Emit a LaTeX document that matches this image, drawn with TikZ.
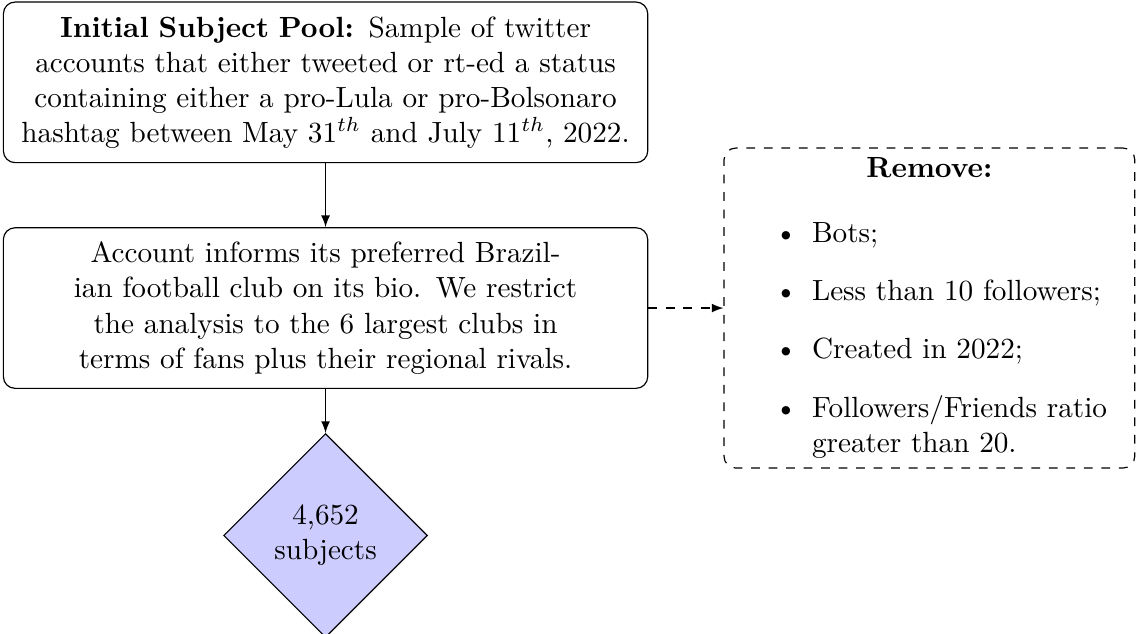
\documentclass[tikz,border=0pt]{standalone}
\usetikzlibrary{shapes.geometric,arrows}
\begin{document}
\begin{tikzpicture}[
  block/.style={rectangle, draw, rounded corners, align=center, text width=214pt, minimum height=55pt},
  removebox/.style={rectangle, draw, dashed, rounded corners, text width=134pt},
  decision/.style={diamond, draw, fill=blue!20, text width=4.5em, align=center, inner sep=1pt},
  arrowline/.style={draw, -latex},
]
\useasboundingbox (0,0) rectangle (389.4pt,-217.1pt);
\node[block] (pool) at (111.5pt,-28.2pt) {\textbf{Initial Subject Pool:} Sample of twitter\\ accounts that either tweeted or rt-ed a status\\ containing either a pro-Lula or pro-Bolsonaro\\ hashtag between May 31$^{th}$ and July 11$^{th}$, 2022.};
\node[block] (club) at (111.5pt,-105.5pt) {Account informs its preferred Brazil-\\ ian football club on its bio. We restrict\\ the analysis to the 6 largest clubs in\\ terms of fans plus their regional rivals.};
\node[decision, anchor=north] (subj) at (111.5pt,-148.3pt) {4,652\\ subjects};
\node[removebox] (remove) at (318.3pt,-105.5pt) {{\centering\textbf{Remove:}\par}
\begin{list}{\textbullet}{\setlength\leftmargin{26.8pt}\setlength\rightmargin{-2.5pt}}
\item Bots;
\item Less than 10 followers;
\item Created in 2022;
\item Followers/Friends ratio greater than 20.
\end{list}};
\draw[arrowline] (pool) -- (club);
\draw[arrowline] (club) -- (subj);
\draw[arrowline, dashed] (club) -- (remove);
\end{tikzpicture}
\end{document}
